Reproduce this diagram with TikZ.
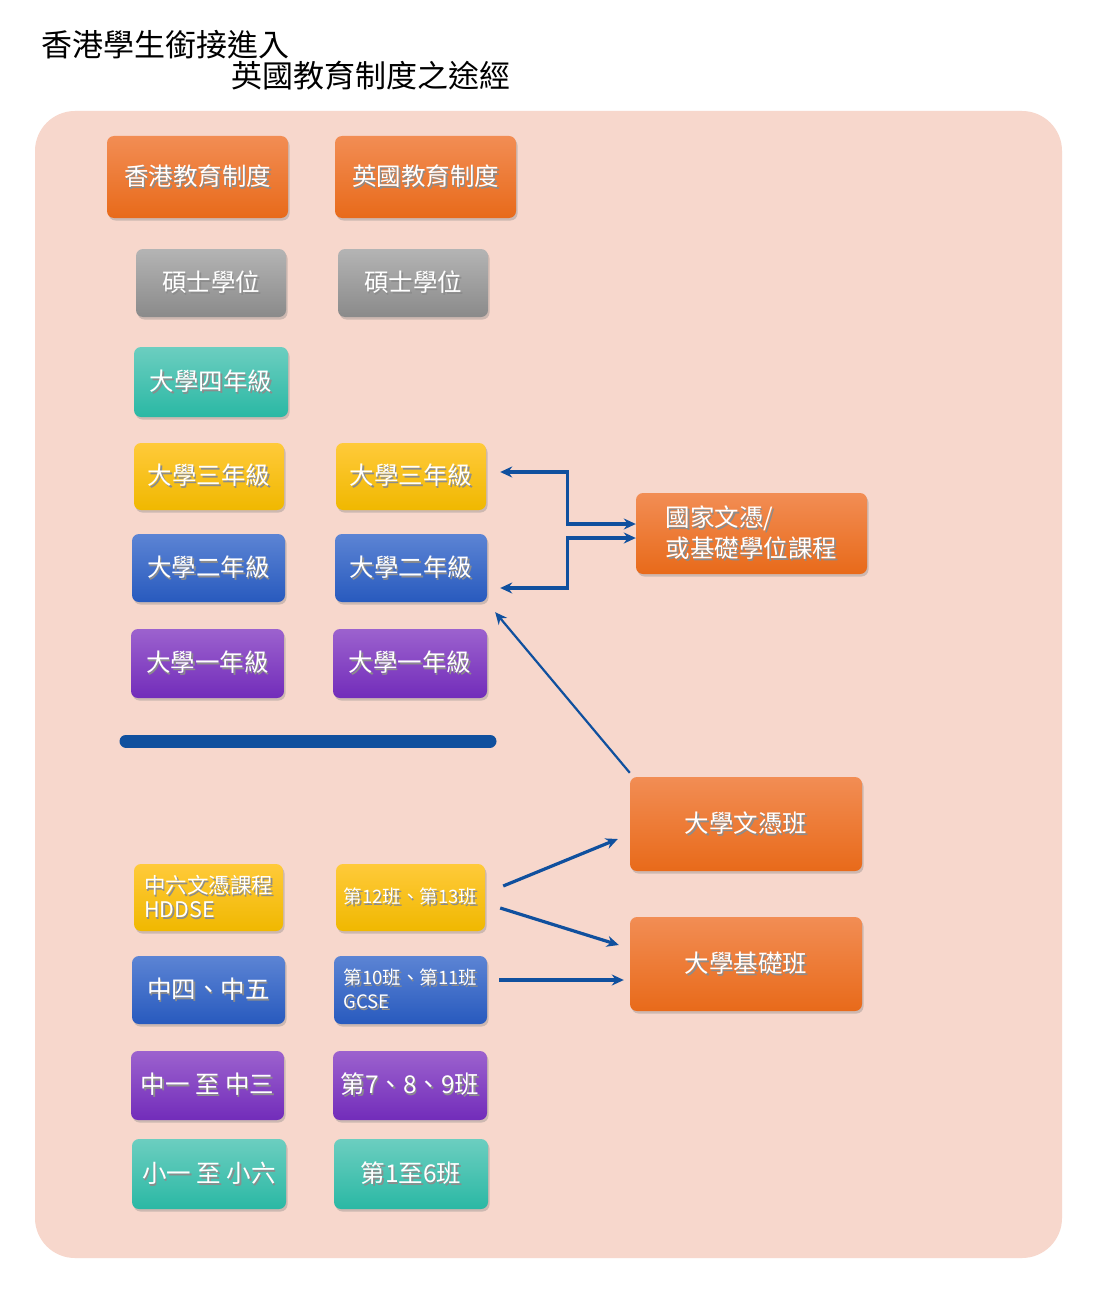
\documentclass[tikz,border=0pt]{standalone}
\usepackage{fontspec}
\newfontfamily\cjk{Noto Sans CJK TC}
\usetikzlibrary{arrows.meta,shadows}

\definecolor{bgpink}{RGB}{247,215,204}
\definecolor{orTop}{RGB}{242,141,84}
\definecolor{orBot}{RGB}{232,106,26}
\definecolor{grTop}{RGB}{180,180,180}
\definecolor{grBot}{RGB}{138,138,138}
\definecolor{tlTop}{RGB}{108,206,192}
\definecolor{tlBot}{RGB}{42,184,164}
\definecolor{ylTop}{RGB}{255,202,58}
\definecolor{ylBot}{RGB}{240,184,0}
\definecolor{blTop}{RGB}{92,132,212}
\definecolor{blBot}{RGB}{40,90,190}
\definecolor{puTop}{RGB}{156,98,206}
\definecolor{puBot}{RGB}{114,44,186}
\definecolor{lnBlue}{RGB}{16,80,158}

\newcommand\shtxt[1]{\rlap{\hspace{1.5pt}\raisebox{-2pt}{\textcolor{black!45}{#1}}}#1}

\begin{document}
\begin{tikzpicture}[x=1pt, y=-1pt,
    box/.style={rounded corners=7pt, text=white, align=center, inner sep=0pt,
        font=\cjk\fontsize{24.5}{29}\selectfont,
        drop shadow={opacity=0.35, shadow xshift=1.5pt, shadow yshift=-2.5pt}},
    sz/.style 2 args={minimum width=#1pt, minimum height=#2pt},
    orbox/.style={box, top color=orTop, bottom color=orBot},
    grbox/.style={box, top color=grTop, bottom color=grBot},
    tlbox/.style={box, top color=tlTop, bottom color=tlBot},
    ylbox/.style={box, top color=ylTop, bottom color=ylBot},
    blbox/.style={box, top color=blTop, bottom color=blBot},
    pubox/.style={box, top color=puTop, bottom color=puBot},
    small/.style={font=\cjk\fontsize{18.5}{24}\selectfont},
    link/.style={draw=lnBlue, line width=3.2pt, -{Stealth[length=12pt, width=11pt]}}
]
\useasboundingbox (0,0) rectangle (1092,1292);
\fill[white] (0,0) rectangle (1092,1292);
\fill[bgpink, rounded corners=40pt] (35,111) rectangle (1062,1258);

% title
\node[anchor=west, font=\cjk\fontsize{31}{36}\selectfont] (title1) at (38,45) {香港學生銜接進入};
\node[anchor=west, font=\cjk\fontsize{31}{36}\selectfont] (title2) at (228,76) {英國教育制度之途經};

% upper part
\node[orbox, sz={181}{82}] (hkSys) at (197.5,177) {\shtxt{香港教育制度}};
\node[orbox, sz={181}{82}] (ukSys) at (425.5,177) {\shtxt{英國教育制度}};
\node[grbox, sz={150}{68}] (hkMas) at (211,283) {\shtxt{碩士學位}};
\node[grbox, sz={150}{68}] (ukMas) at (413,283) {\shtxt{碩士學位}};
\node[tlbox, sz={154}{70}] (hkY4) at (211,382) {\shtxt{大學四年級}};
\node[ylbox, sz={150}{67}] (hkY3) at (209,476.5) {\shtxt{大學三年級}};
\node[ylbox, sz={150}{67}] (ukY3) at (411,476.5) {\shtxt{大學三年級}};
\node[blbox, sz={153}{68}] (hkY2) at (208.5,568) {\shtxt{大學二年級}};
\node[blbox, sz={152}{68}] (ukY2) at (411,568) {\shtxt{大學二年級}};
\node[pubox, sz={153}{69}] (hkY1) at (207.5,663.5) {\shtxt{大學一年級}};
\node[pubox, sz={154}{69}] (ukY1) at (410,663.5) {\shtxt{大學一年級}};

\draw[lnBlue, line width=13pt, line cap=round] (126,741) -- (490,741);

% lower part
\node[ylbox, sz={149}{67}, align=left, font=\cjk\fontsize{21.5}{24}\selectfont] (hkS6) at (208.5,897.5) {\shtxt{中六文憑課程}\\\shtxt{HDDSE}};
\node[ylbox, sz={149}{67}, small] (ukY12) at (410.5,897.5) {\shtxt{第12班、第13班}};
\node[blbox, sz={153}{68}] (hkS4) at (208.5,990) {\shtxt{中四、中五}};
\node[blbox, sz={153}{68}, small, align=left] (ukY10) at (410.5,990) {\shtxt{第10班、第11班}\\\shtxt{GCSE}};
\node[pubox, sz={153}{69}] (hkS1) at (207.5,1085.5) {\shtxt{中一 至 中三}};
\node[pubox, sz={154}{69}] (ukY7) at (410,1085.5) {\shtxt{第7、8、9班}};
\node[tlbox, sz={154}{70}] (hkP1) at (209,1174) {\shtxt{小一 至 小六}};
\node[tlbox, sz={154}{70}] (ukY1to6) at (411,1174) {\shtxt{第1至6班}};

% right column
\node[orbox, sz={231}{81}, align=left, font=\cjk\fontsize{24.5}{31}\selectfont] (natDip) at (751.5,533.5) {\shtxt{國家文憑/}\\\shtxt{或基礎學位課程}};
\node[orbox, sz={232}{94}] (uniDip) at (746,824) {\shtxt{大學文憑班}};
\node[orbox, sz={232}{94}] (uniFnd) at (746,964) {\shtxt{大學基礎班}};

% connectors
\draw[link, {Stealth[length=12pt, width=11pt]}-{Stealth[length=12pt, width=11pt]}]
    ([xshift=14pt, yshift=4.5pt]ukY3.east) -- ++(67,0) |- ([yshift=9.5pt]natDip.west);
\draw[link, {Stealth[length=12pt, width=11pt]}-{Stealth[length=12pt, width=11pt]}]
    ([xshift=13pt, yshift=-20pt]ukY2.east) -- ++(67,0) |- ([yshift=-4.5pt]natDip.west);
\draw[link, line width=2.2pt] ([yshift=4pt]uniDip.north west) -- ([xshift=8pt, yshift=-10pt]ukY2.south east);
\draw[link] ([xshift=18pt, yshift=11.5pt]ukY12.east) -- ([xshift=-12pt, yshift=-15pt]uniDip.west);
\draw[link] ([xshift=15pt, yshift=-10.5pt]ukY12.east) -- ([xshift=-11pt, yshift=19pt]uniFnd.west);
\draw[link] ([xshift=12pt, yshift=10pt]ukY10.east) -- ([xshift=-6pt, yshift=-16pt]uniFnd.west);
\end{tikzpicture}
\end{document}
